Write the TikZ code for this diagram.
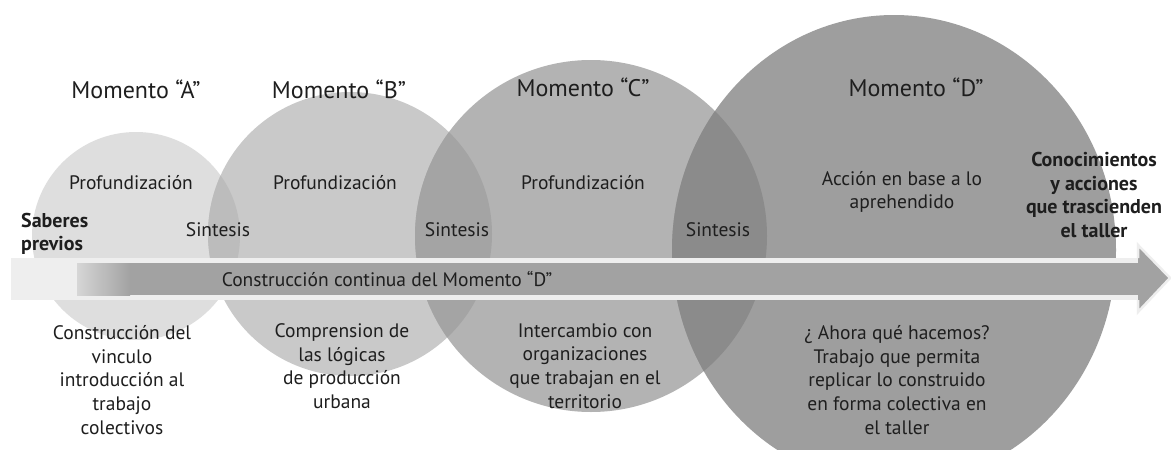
\documentclass[tikz,border=0pt]{standalone}
\usepackage{fontspec}
\setmainfont{PT Sans}
\definecolor{cA}{HTML}{DEDEDE}
\definecolor{cB}{HTML}{C9C9C9}
\definecolor{cC}{HTML}{B3B3B3}
\definecolor{cD}{HTML}{9E9E9E}
\definecolor{lAB}{HTML}{BCBCBC}
\definecolor{lBC}{HTML}{A4A4A4}
\definecolor{lCD}{HTML}{8B8B8B}
\definecolor{bandlight}{HTML}{EEEEEE}
\definecolor{band}{HTML}{A2A2A2}
\definecolor{gradL}{HTML}{D6D6D6}
\definecolor{txtcol}{HTML}{1E1E1E}
\begin{document}
\begin{tikzpicture}[x=1pt,y=-1pt,
  txt/.style={font=\fontsize{19.5}{23.6}\selectfont, text=txtcol, align=center, inner sep=0pt},
  mom/.style={font=\fontsize{24}{28}\selectfont, text=txtcol, inner sep=0pt},
  bld/.style={font=\fontsize{20}{23.4}\selectfont\bfseries, text=txtcol, align=center, inner sep=0pt}
]
\useasboundingbox (0,0) rectangle (1171,450);
\clip (0,0) rectangle (1171,450);
\fill[white] (0,0) rectangle (1171,450);
% circles
\fill[cA] (136,236) circle[radius=104pt];
\fill[cB] (350,234) circle[radius=142pt];
\fill[cC] (591,236) circle[radius=176pt];
\fill[cD] (894,250) ellipse[x radius=222pt, y radius=235pt];
% lenses
\begin{scope}
  \clip (136,236) circle[radius=104pt];
  \fill[lAB] (350,234) circle[radius=142pt];
\end{scope}
\begin{scope}
  \clip (350,234) circle[radius=142pt];
  \fill[lBC] (591,236) circle[radius=176pt];
\end{scope}
\begin{scope}
  \clip (591,236) circle[radius=176pt];
  \fill[lCD] (894,250) ellipse[x radius=222pt, y radius=235pt];
\end{scope}
% arrow
\fill[bandlight] (11,258) rectangle (1138,300);
\fill[band] (129,263) rectangle (1139,295);
\shade[left color=gradL, right color=band] (77,263) rectangle (130,295);
\fill[band] (1138,245) -- (1170,278) -- (1138,312) -- cycle;
\draw[bandlight, line width=2.5pt, line join=miter] (1138,258) -- (1138,245) -- (1170,278) -- (1138,312) -- (1138,300);
\fill[band] (1130,263) rectangle (1142,295);
% titles
\node[mom] (mA) at (136,89) {Momento “A”};
\node[mom] (mB) at (339,89) {Momento “B”};
\node[mom] (mC) at (583,87) {Momento “C”};
\node[mom] (mD) at (916,87) {Momento “D”};
% upper texts
\node[txt] (pA) at (131,183) {Profundización};
\node[txt] (pB) at (335,183) {Profundización};
\node[txt] (pC) at (583,183) {Profundización};
\node[txt] (pD) at (902,192) {Acción en base a lo\\aprehendido};
\node[bld, align=left, anchor=west] (sab) at (21,234) {Saberes\\previos};
\node[txt] (s1) at (218,230) {Sintesis};
\node[txt] (s2) at (457,230) {Sintesis};
\node[txt] (s3) at (718,230) {Sintesis};
\node[bld] (con) at (1094,195) {Conocimientos\\y acciones\\que trascienden\\el taller};
\node[txt] (cc) at (387,279) {Construcción continua del Momento “D”};
% lower texts
\node[txt] (bA) at (122,380) {Construcción del\\vinculo\\introducción al\\trabajo\\colectivos};
\node[txt] (bB) at (342,366) {Comprension de\\las lógicas\\de producción\\urbana};
\node[txt] (bC) at (585,366) {Intercambio con\\organizaciones\\que trabajan en el\\territorio};
\node[txt] (bD) at (897,380) {¿ Ahora qué hacemos?\\Trabajo que permita\\replicar lo construido\\en forma colectiva en\\el taller};
\end{tikzpicture}
\end{document}
